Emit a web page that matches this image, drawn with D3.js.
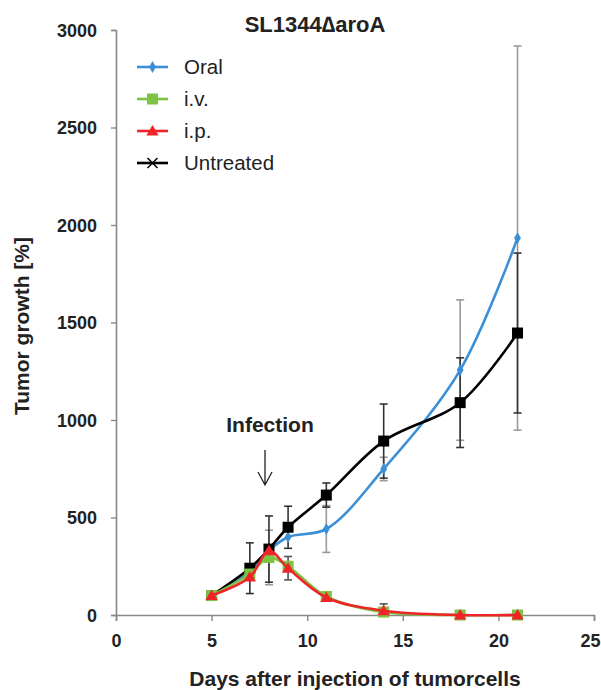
<!DOCTYPE html>
<html>
<head>
<meta charset="utf-8">
<script src="https://cdn.jsdelivr.net/npm/d3@7"></script>
<style>
  body { margin: 0; background: #fff; }
  text { font-family: "Liberation Sans", Arial, sans-serif; }
</style>
</head>
<body>
<svg id="chart" width="601" height="690"></svg>
<script>
// data
var days = [5, 7, 8, 9, 11, 14, 18, 21];
var oral      = [100, 220, 330, 400, 441, 749, 1256, 1933];
var oralErr   = [0, 0, 0, 0, 120, 60, 360, 985];
var iv        = [100, 210, 295, 250, 95, 15, 0, 0];
var ivErr     = [0, 0, 140, 0, 0, 0, 0, 0];
var ip        = [100, 195, 330, 240, 90, 22, 0, 0];
var ipErr     = [0, 0, 0, 60, 0, 35, 0, 0];
var untreated = [100, 240, 338, 450, 615, 892, 1089, 1446];
var untrErr   = [0, 130, 170, 108, 62, 190, 230, 410];
var xTicks = [0, 5, 10, 15, 20, 25];
var yTicks = [0, 500, 1000, 1500, 2000, 2500, 3000];

var series = [
  { name: 'Oral', values: oral, err: oralErr, color: '#3a8fd6', errColor: '#9a9a9a', marker: 'diamond', legendMarker: 'diamond' },
  { name: 'i.v.', values: iv, err: ivErr, color: '#7dc242', errColor: '#9a9a9a', marker: 'square', legendMarker: 'square' },
  { name: 'i.p.', values: ip, err: ipErr, color: '#ee2428', errColor: '#555', marker: 'triangle', legendMarker: 'triangle' },
  { name: 'Untreated', values: untreated, err: untrErr, color: '#000', errColor: '#333', marker: 'square', legendMarker: 'cross' }
];

var svg = d3.select('#chart');
var x = d3.scaleLinear().domain([0, 25]).range([116, 594]);
var y = d3.scaleLinear().domain([0, 3000]).range([615, 30]);

// axes
var gy = svg.append('g').attr('transform', 'translate(116,0)')
  .call(d3.axisLeft(y).tickValues(yTicks).tickFormat(d3.format('d')).tickSize(5).tickPadding(14));
var gx = svg.append('g').attr('transform', 'translate(0,615)')
  .call(d3.axisBottom(x).tickValues(xTicks).tickFormat(d3.format('d')).tickSize(6).tickPadding(13));
[gx, gy].forEach(function (g) {
  g.select('.domain').attr('stroke', '#888').attr('stroke-width', 1.6);
  g.selectAll('.tick line').attr('stroke', '#888').attr('stroke-width', 1.4);
  g.selectAll('.tick text').attr('fill', '#222').style('font-size', '18px').style('font-weight', 'bold')
    .attr('font-family', '"Liberation Sans", Arial, sans-serif');
});
gy.selectAll('.tick text').attr('dy', '0.36em');
gx.selectAll('.tick text').attr('dy', '0.71em');
// last label sits right at the edge, nudge it in
gx.selectAll('.tick text').filter(function (d) { return d === 25; }).attr('dx', -4);

// error bars (drawn under the lines)
var eb = svg.append('g');
series.forEach(function (s) {
  days.forEach(function (d, i) {
    if (!s.err[i]) return;
    var x0 = x(d), y1 = y(s.values[i] + s.err[i]), y2 = y(Math.max(0, s.values[i] - s.err[i]));
    eb.append('line').attr('x1', x0).attr('x2', x0).attr('y1', y1).attr('y2', y2)
      .attr('stroke', s.errColor).attr('stroke-width', 1.6);
    [y1, y2].forEach(function (yy) {
      eb.append('line').attr('x1', x0 - 4).attr('x2', x0 + 4).attr('y1', yy).attr('y2', yy)
        .attr('stroke', s.errColor).attr('stroke-width', 1.6);
    });
  });
});

var line = d3.line().curve(d3.curveCatmullRom.alpha(0.5))
  .x(function (d) { return x(d[0]); })
  .y(function (d) { return y(d[1]); });

function drawMarker(g, type, cx, cy, color) {
  if (type === 'diamond') {
    g.append('path').attr('d', d3.symbol(d3.symbolDiamond, 40)())
      .attr('transform', 'translate(' + cx + ',' + cy + ')').attr('fill', color);
  } else if (type === 'square') {
    g.append('rect').attr('x', cx - 5.5).attr('y', cy - 5.5).attr('width', 11).attr('height', 11).attr('fill', color);
  } else if (type === 'triangle') {
    g.append('path').attr('d', d3.symbol(d3.symbolTriangle, 65)())
      .attr('transform', 'translate(' + cx + ',' + (cy + 1) + ')').attr('fill', color);
  } else if (type === 'cross') {
    g.append('path').attr('d', 'M' + (cx - 5) + ',' + (cy - 5) + 'L' + (cx + 5) + ',' + (cy + 5) +
      'M' + (cx - 5) + ',' + (cy + 5) + 'L' + (cx + 5) + ',' + (cy - 5))
      .attr('stroke', color).attr('stroke-width', 1.5);
  }
}

// draw order: oral, untreated, iv, ip
[series[0], series[3], series[1], series[2]].forEach(function (s) {
  var pts = days.map(function (d, i) { return [d, s.values[i]]; });
  var g = svg.append('g');
  g.append('path').attr('d', line(pts)).attr('fill', 'none')
    .attr('stroke', s.color).attr('stroke-width', 2.6);
  pts.forEach(function (p) { drawMarker(g, s.marker, x(p[0]), y(p[1]), s.color); });
});

// legend
var lg = svg.append('g');
series.forEach(function (s, i) {
  var ly = 67 + i * 32;
  lg.append('line').attr('x1', 137).attr('x2', 168).attr('y1', ly).attr('y2', ly)
    .attr('stroke', s.color).attr('stroke-width', 2.6);
  drawMarker(lg, s.legendMarker, 152.5, ly, s.color);
  lg.append('text').attr('x', 184).attr('y', ly + 7).attr('fill', '#222')
    .style('font-size', '20.5px').text(s.name);
});

// title
svg.append('text').attr('x', 315).attr('y', 32).attr('text-anchor', 'middle')
  .attr('fill', '#222').style('font-size', '22px').style('font-weight', 'bold').text('SL1344\u2206aroA');

// axis titles
svg.append('text').attr('transform', 'translate(28.5,326) rotate(-90)').attr('text-anchor', 'middle')
  .attr('fill', '#222').style('font-size', '21px').style('font-weight', 'bold').text('Tumor growth [%]');
svg.append('text').attr('x', 355).attr('y', 686).attr('text-anchor', 'middle')
  .attr('fill', '#222').style('font-size', '21px').style('font-weight', 'bold').text('Days after injection of tumorcells');

// infection annotation
svg.append('text').attr('x', 270).attr('y', 432).attr('text-anchor', 'middle')
  .attr('fill', '#222').style('font-size', '21px').style('font-weight', 'bold').text('Infection');
svg.append('path').attr('d', 'M265,450L265,485M258,472L265,485L272,472')
  .attr('fill', 'none').attr('stroke', '#222').attr('stroke-width', 1.3);
</script>
</body>
</html>
